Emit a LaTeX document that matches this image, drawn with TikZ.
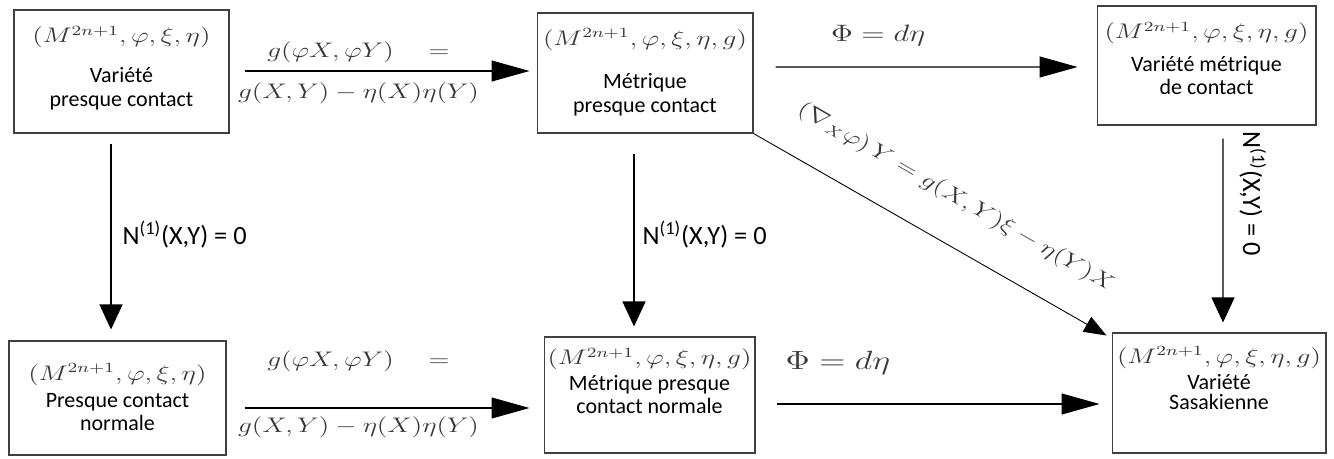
\RequirePackage{fix-cm}
\documentclass[tikz,border=0pt]{standalone}
\usepackage{fontspec}
\setsansfont{Carlito}
\usetikzlibrary{arrows.meta, calc}

\newcommand{\mth}[2][12]{{\color{black!78}\fontsize{#1}{#1}\selectfont\scalebox{1.3}[1]{$#2$}}}
\newcommand{\lowstrut}[1][10pt]{\rule[-#1]{0pt}{0pt}}
\newcommand{\nzero}{N\textsuperscript{(1)}(X,Y) = 0}

\begin{document}
\begin{tikzpicture}[x=0.02cm, y=-0.02cm,
  box/.style={draw=black!75, line width=0.6pt, inner sep=2pt, align=center, font=\sffamily\fontsize{12.5}{13.5}\selectfont},
  harrow/.style={-{Triangle[length=0.76cm, width=0.42cm]}, line width=0.6pt},
  varrow/.style={-{Triangle[length=0.5cm, width=0.46cm]}, line width=0.6pt},
  darrow/.style={-{Triangle[length=0.45cm, width=0.34cm]}, line width=0.5pt},
  nlabel/.style={font=\sffamily\fontsize{15}{18}\selectfont}
]
\useasboundingbox (0,0) rectangle (1334,459);

% top row
\node[box, minimum width=4.30cm, minimum height=2.46cm] (pc) at (121.5,71.5)
  {\mth{(M^{2n+1},\varphi,\xi,\eta)}\\[9pt] Variété\\ presque contact\lowstrut[6pt]};
\node[box, minimum width=4.32cm, minimum height=2.40cm] (mpc) at (645,73)
  {\mth{(M^{2n+1},\varphi,\xi,\eta,g)}\\[11pt] Métrique\\ presque contact\lowstrut[3pt]};
\node[box, minimum width=4.38cm, minimum height=2.38cm] (mc) at (1206.5,65.5)
  {\mth{(M^{2n+1},\varphi,\xi,\eta,g)}\\[5pt] Variété métrique\\ de contact\lowstrut[8pt]};

% bottom row
\node[box, minimum width=4.34cm, minimum height=2.28cm] (pcn) at (117.5,398)
  {\mth{(M^{2n+1},\varphi,\xi,\eta)}\\[2pt] Presque contact\\ normale\lowstrut[1pt]};
\node[box, minimum width=4.22cm, minimum height=2.32cm] (mpcn) at (649.5,395)
  {\mth{(M^{2n+1},\varphi,\xi,\eta,g)}\\[1pt] Métrique presque\\ contact normale\lowstrut[16pt]};
\node[box, minimum width=4.28cm, minimum height=2.40cm] (sas) at (1219,393)
  {\mth{(M^{2n+1},\varphi,\xi,\eta,g)}\\[1pt] Variété\\[-2pt] Sasakienne\lowstrut[17pt]};

% horizontal arrows
\draw[harrow] ($(pc.east)+(15,-0.5)$) --
  node[pos=0.4, above=1pt] (cA) {\mth{g(\varphi X,\varphi Y)\quad =}}
  node[pos=0.4, below=3pt] (cB) {\mth{g(X,Y)-\eta(X)\eta(Y)}}
  ($(mpc.west)+(-7,-2)$);
\draw[harrow] ($(mpc.east)+(22,-6)$) --
  node[pos=0.34, above=8pt] (dA) {\mth[13.5]{\Phi=d\eta}}
  ($(mc.west)+(-19,1.5)$);
\draw[harrow] ($(pcn.east)+(18,10)$) --
  node[pos=0.4, above=17pt] (cC) {\mth{g(\varphi X,\varphi Y)\quad =}}
  node[pos=0.4, below=1.5pt] (cD) {\mth{g(X,Y)-\eta(X)\eta(Y)}}
  ($(mpcn.west)+(-14,13)$);
\draw[harrow] ($(mpcn.east)+(21,9)$) --
  node[pos=0.19, above=13pt] (dB) {\mth[15]{\Phi=d\eta}}
  ($(sas.west)+(-12,11)$);

% vertical arrows
\draw[varrow] ($(pc.south)+(-10.5,10)$) --
  node[nlabel, pos=0.49, right=3pt] (nA) {\nzero}
  ($(pcn.north)+(-6.5,-11)$);
\draw[varrow] ($(mpc.south)+(-11,20)$) --
  node[nlabel, pos=0.47, right=1.3pt] (nB) {\nzero}
  ($(mpcn.north)+(-15.5,-10)$);
\draw[varrow] ($(mc.south)+(16.5,13)$) --
  node[nlabel, pos=0.3, rotate=-90, anchor=south, inner ysep=9pt] (nC) {\nzero}
  ($(sas.north)+(4,-10)$);

% diagonal arrow
\draw[darrow] (mpc.south east) --
  node[sloped, pos=0.51, above=16pt] (nab) {\mth{(\nabla_{X}\varphi)\,Y=g(X,Y)\xi-\eta(Y)X}}
  ($(sas.north west)+(-5,3)$);

\end{tikzpicture}
\end{document}
